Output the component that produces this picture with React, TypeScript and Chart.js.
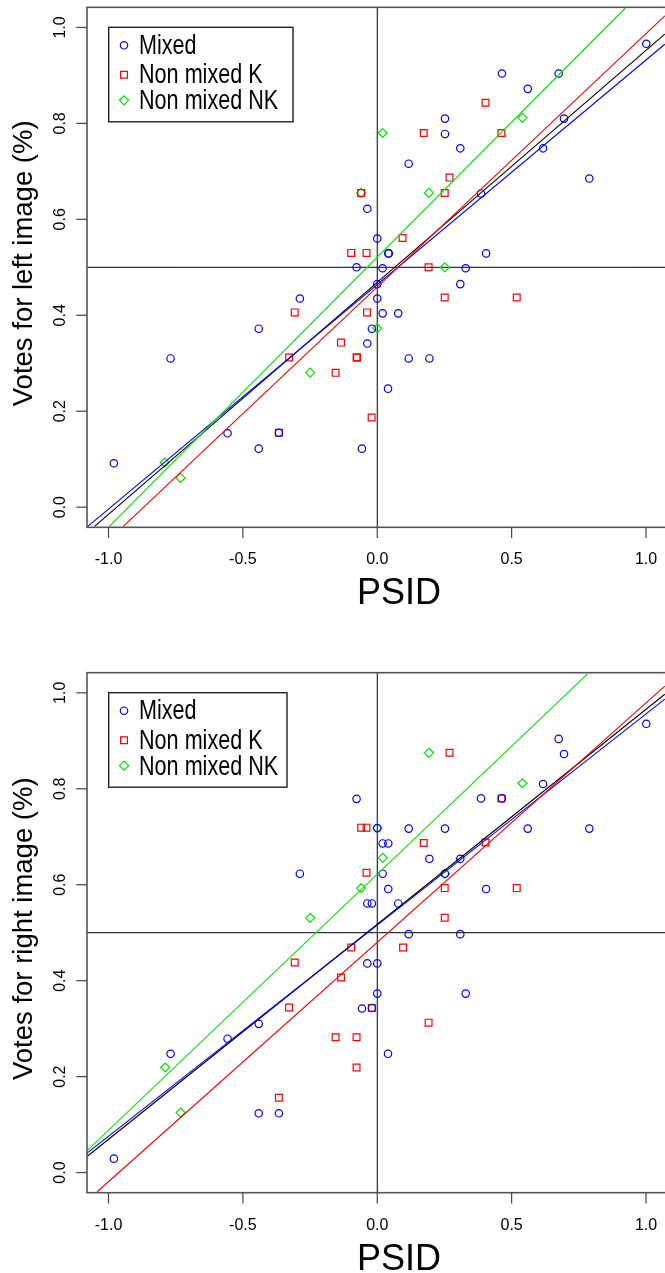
import React, { useEffect, useRef } from 'react';
import { Chart, registerables } from 'chart.js';

Chart.register(...registerables);

const FONT = '"Liberation Sans", Arial, Helvetica, sans-serif';

// ---- axes / labels ----
const xTickValues = [-1, -0.5, 0, 0.5, 1];
const xTickLabels = ['-1.0', '-0.5', '0.0', '0.5', '1.0'];
const yTickValues = [0, 0.2, 0.4, 0.6, 0.8, 1];
const yTickLabels = ['0.0', '0.2', '0.4', '0.6', '0.8', '1.0'];
const xTitle = 'PSID';
const yTitleLeft = 'Votes for left image (%)';
const yTitleRight = 'Votes for right image (%)';
const seriesNames = ['Mixed', 'Non mixed K', 'Non mixed NK'];
const seriesColors = ['#0000ff', '#ff0000', '#00e600'];
const fitColor = '#000000';
const xRange = [-1.08, 1.08];
const yRange = [-0.042, 1.042];

// ---- top panel (left image) points ----
const leftMixed: [number, number][] = [
  [1.001, 0.966], [0.464, 0.904], [0.675, 0.904], [0.56, 0.872], [0.695, 0.81],
  [0.252, 0.81], [0.252, 0.778], [0.309, 0.748], [0.617, 0.748], [0.117, 0.716],
  [0.789, 0.685], [0.386, 0.654], [-0.037, 0.622], [0.0, 0.56], [0.041, 0.529],
  [0.043, 0.529], [0.405, 0.529], [-0.077, 0.5], [0.02, 0.498], [0.329, 0.498],
  [0.0, 0.465], [0.309, 0.465], [0.0, 0.435], [-0.288, 0.435], [0.02, 0.404],
  [0.078, 0.404], [-0.02, 0.372], [-0.441, 0.372], [-0.037, 0.341], [0.117, 0.31],
  [0.194, 0.31], [-0.769, 0.31], [0.04, 0.247], [-0.557, 0.154], [-0.366, 0.155],
  [-0.441, 0.122], [-0.057, 0.122], [-0.98, 0.0915],
];
const leftNonMixedK: [number, number][] = [
  [-0.06, 0.655], [-0.097, 0.53], [-0.04, 0.53], [0.403, 0.843], [0.173, 0.78],
  [0.462, 0.78], [0.269, 0.687], [0.251, 0.655], [0.094, 0.561], [0.191, 0.5],
  [0.251, 0.437], [0.519, 0.437], [-0.038, 0.406], [-0.307, 0.406], [-0.135, 0.343],
  [-0.328, 0.312], [-0.077, 0.312], [-0.075, 0.312], [-0.155, 0.28], [-0.021, 0.187],
  [-0.366, 0.155],
];
const leftNonMixedNK: [number, number][] = [
  [-0.06, 0.655], [0.54, 0.8115], [0.02, 0.78], [0.192, 0.655], [0.251, 0.5],
  [0.0, 0.373], [-0.25, 0.2805], [-0.791, 0.093], [-0.732, 0.061],
];
// regression lines read at the plot edges
const leftFitAll: [number, number][] = [[-1.052, -0.04], [1.07, 0.986]];
const leftFitMixed: [number, number][] = [[-1.077, -0.04], [1.07, 0.965]];
const leftFitK: [number, number][] = [[-0.945, -0.04], [1.07, 1.024]];
const leftFitNK: [number, number][] = [[-0.997, -0.04], [0.922, 1.04]];

// ---- bottom panel (right image) points ----
const rightMixed: [number, number][] = [
  [1.001, 0.9355], [0.675, 0.904], [0.695, 0.8725], [0.617, 0.81], [0.386, 0.78],
  [0.464, 0.78], [-0.077, 0.779], [0.0, 0.718], [0.117, 0.717], [0.252, 0.717],
  [0.56, 0.717], [0.789, 0.717], [0.02, 0.686], [0.041, 0.686], [0.194, 0.654],
  [0.309, 0.654], [-0.288, 0.623], [0.02, 0.623], [0.252, 0.623], [0.041, 0.591],
  [0.405, 0.591], [-0.037, 0.561], [-0.02, 0.561], [0.078, 0.561], [0.117, 0.497],
  [0.309, 0.497], [-0.037, 0.436], [0.0, 0.436], [0.0, 0.373], [0.329, 0.373],
  [-0.057, 0.342], [-0.02, 0.343], [-0.441, 0.31], [-0.557, 0.279], [-0.769, 0.2475],
  [0.04, 0.2475], [-0.441, 0.1235], [-0.366, 0.1235], [-0.98, 0.029],
];
const rightNonMixedK: [number, number][] = [
  [0.269, 0.875], [0.462, 0.78], [-0.06, 0.719], [-0.04, 0.719], [0.173, 0.687],
  [0.403, 0.688], [-0.04, 0.625], [0.251, 0.593], [0.519, 0.593], [0.251, 0.531],
  [-0.097, 0.469], [0.096, 0.469], [-0.307, 0.438], [-0.135, 0.4065], [-0.328, 0.344],
  [-0.02, 0.343], [0.191, 0.3125], [-0.155, 0.282], [-0.077, 0.282], [-0.077, 0.219],
  [-0.366, 0.156],
];
const rightNonMixedNK: [number, number][] = [
  [0.192, 0.875], [0.54, 0.8115], [0.0, 0.718], [0.02, 0.656], [-0.06, 0.593],
  [0.252, 0.623], [-0.25, 0.531], [-0.789, 0.219], [-0.732, 0.125],
];
const rightFitAll: [number, number][] = [[-1.081, 0.033], [1.07, 0.997]];
const rightFitMixed: [number, number][] = [[-1.081, 0.04], [1.07, 0.987]];
const rightFitK: [number, number][] = [[-1.042, -0.04], [1.07, 1.014]];
const rightFitNK: [number, number][] = [[-1.081, 0.045], [0.7815, 1.039]];

const CANVAS_W = 680;
const PLOT_LEFT = 87;
const PLOT_RIGHT = 667.5;
const PLOT_H = 520;

const toXY = (arr: [number, number][]) => arr.map(([x, y]) => ({ x, y }));

function drawSymbol(ctx: CanvasRenderingContext2D, kind: number, x: number, y: number, color: string) {
  ctx.save();
  ctx.strokeStyle = color;
  ctx.lineWidth = 1.2;
  ctx.beginPath();
  if (kind === 0) {
    ctx.arc(x, y, 3.7, 0, Math.PI * 2);
  } else if (kind === 1) {
    ctx.rect(x - 3.4, y - 3.4, 6.8, 6.8);
  } else {
    ctx.moveTo(x, y - 4.5);
    ctx.lineTo(x + 4.5, y);
    ctx.lineTo(x, y + 4.5);
    ctx.lineTo(x - 4.5, y);
    ctx.closePath();
  }
  ctx.stroke();
  ctx.restore();
}

const decorPlugin = {
  id: 'decor',
  beforeDatasetsDraw(chart: any) {
    const { ctx, chartArea: a, scales } = chart;
    const px0 = scales.x.getPixelForValue(0);
    const py5 = scales.y.getPixelForValue(0.5);
    ctx.save();
    ctx.beginPath();
    ctx.rect(a.left, a.top, a.right - a.left, a.bottom - a.top);
    ctx.clip();
    ctx.strokeStyle = '#000';
    ctx.lineWidth = 1;
    ctx.beginPath();
    ctx.moveTo(px0, a.top);
    ctx.lineTo(px0, a.bottom);
    ctx.moveTo(a.left, py5);
    ctx.lineTo(a.right, py5);
    ctx.stroke();
    ctx.restore();
  },
  afterDraw(chart: any, _args: any, opts: any) {
    const { ctx, chartArea: a, scales } = chart;
    ctx.save();
    // box
    ctx.strokeStyle = '#555';
    ctx.lineWidth = 1.6;
    ctx.strokeRect(a.left, a.top, a.right - a.left, a.bottom - a.top);
    // x ticks
    ctx.lineWidth = 1.2;
    ctx.strokeStyle = '#444';
    ctx.fillStyle = '#000';
    ctx.font = `16px ${FONT}`;
    ctx.textAlign = 'center';
    ctx.textBaseline = 'alphabetic';
    xTickValues.forEach((v, i) => {
      const px = scales.x.getPixelForValue(v);
      ctx.beginPath();
      ctx.moveTo(px, a.bottom);
      ctx.lineTo(px, a.bottom + 10.7);
      ctx.stroke();
      ctx.fillText(xTickLabels[i], px, a.bottom + 37);
    });
    // y ticks
    yTickValues.forEach((v, i) => {
      const py = scales.y.getPixelForValue(v);
      ctx.beginPath();
      ctx.moveTo(a.left, py);
      ctx.lineTo(a.left - 10.7, py);
      ctx.stroke();
      ctx.save();
      ctx.translate(65, py);
      ctx.rotate(-Math.PI / 2);
      ctx.fillText(yTickLabels[i], 0, 0);
      ctx.restore();
    });
    // titles
    ctx.font = `36px ${FONT}`;
    ctx.fillText(xTitle, 399, a.bottom + 77);
    ctx.save();
    ctx.font = `27.5px ${FONT}`;
    ctx.translate(31.5, (a.top + a.bottom) / 2 - 4);
    ctx.rotate(-Math.PI / 2);
    ctx.fillText(opts.yTitle, 0, 0);
    ctx.restore();
    // legend
    const lx = 108.7;
    const ly = a.top + 20;
    ctx.fillStyle = '#fff';
    ctx.fillRect(lx, ly, opts.legendWidth, 94.5);
    ctx.strokeStyle = '#222';
    ctx.lineWidth = 1.4;
    ctx.strokeRect(lx, ly, opts.legendWidth, 94.5);
    const symY = [18, 47.5, 73];
    const txtY = [26.5, 56, 82];
    ctx.fillStyle = '#000';
    ctx.textAlign = 'left';
    ctx.font = `27px ${FONT}`;
    seriesNames.forEach((name, i) => {
      drawSymbol(ctx, i, 124, ly + symY[i], seriesColors[i]);
      ctx.save();
      ctx.translate(139, ly + txtY[i]);
      ctx.scale(0.8, 1.05);
      ctx.fillText(name, 0, 0);
      ctx.restore();
    });
    ctx.restore();
  },
};

type PanelProps = {
  height: number;
  padTop: number;
  yTitle: string;
  legendWidth: number;
  mixed: [number, number][];
  nonK: [number, number][];
  nonNK: [number, number][];
  fitAll: [number, number][];
  fitMixed: [number, number][];
  fitK: [number, number][];
  fitNK: [number, number][];
};

function Panel(p: PanelProps) {
  const ref = useRef<HTMLCanvasElement | null>(null);
  useEffect(() => {
    if (!ref.current) return;
    const pointDs = (data: [number, number][], color: string, style: string, radius: number) => ({
      data: toXY(data),
      showLine: false,
      pointStyle: style,
      pointRadius: radius,
      pointBorderColor: color,
      pointBackgroundColor: 'rgba(0,0,0,0)',
      pointBorderWidth: 1.2,
      order: 10,
    });
    const lineDs = (data: [number, number][], color: string, ord: number) => ({
      data: toXY(data),
      showLine: true,
      borderColor: color,
      borderWidth: 1.1,
      pointRadius: 0,
      fill: false,
      order: ord,
    });
    const chart = new Chart(ref.current, {
      type: 'scatter',
      data: {
        datasets: [
          pointDs(p.mixed, seriesColors[0], 'circle', 3.7),
          pointDs(p.nonK, seriesColors[1], 'rect', 4.8),
          pointDs(p.nonNK, seriesColors[2], 'rectRot', 4.5),
          lineDs(p.fitAll, fitColor, 4),
          lineDs(p.fitMixed, seriesColors[0], 3),
          lineDs(p.fitK, seriesColors[1], 2),
          lineDs(p.fitNK, seriesColors[2], 1),
        ] as any,
      },
      options: {
        responsive: false,
        animation: false,
        events: [],
        layout: {
          padding: {
            left: PLOT_LEFT,
            right: CANVAS_W - PLOT_RIGHT,
            top: p.padTop,
            bottom: p.height - p.padTop - PLOT_H,
          },
        },
        scales: {
          x: { type: 'linear', min: xRange[0], max: xRange[1], display: false },
          y: { type: 'linear', min: yRange[0], max: yRange[1], display: false },
        },
        plugins: {
          legend: { display: false },
          tooltip: { enabled: false },
          decor: { yTitle: p.yTitle, legendWidth: p.legendWidth },
        } as any,
      },
      plugins: [decorPlugin as any],
    });
    return () => chart.destroy();
  }, []);
  return (
    <canvas
      ref={ref}
      width={CANVAS_W}
      height={p.height}
      style={{ display: 'block', width: CANVAS_W, height: p.height }}
    />
  );
}

export default function App() {
  return (
    <div
      style={{
        position: 'absolute',
        left: 0,
        top: 0,
        width: 665,
        height: 1273,
        overflow: 'hidden',
        background: '#fff',
      }}
    >
      <Panel
        height={640}
        padTop={7.3}
        yTitle={yTitleLeft}
        legendWidth={184.3}
        mixed={leftMixed}
        nonK={leftNonMixedK}
        nonNK={leftNonMixedNK}
        fitAll={leftFitAll}
        fitMixed={leftFitMixed}
        fitK={leftFitK}
        fitNK={leftFitNK}
      />
      <Panel
        height={633}
        padTop={32.7}
        yTitle={yTitleRight}
        legendWidth={178.3}
        mixed={rightMixed}
        nonK={rightNonMixedK}
        nonNK={rightNonMixedNK}
        fitAll={rightFitAll}
        fitMixed={rightFitMixed}
        fitK={rightFitK}
        fitNK={rightFitNK}
      />
    </div>
  );
}
